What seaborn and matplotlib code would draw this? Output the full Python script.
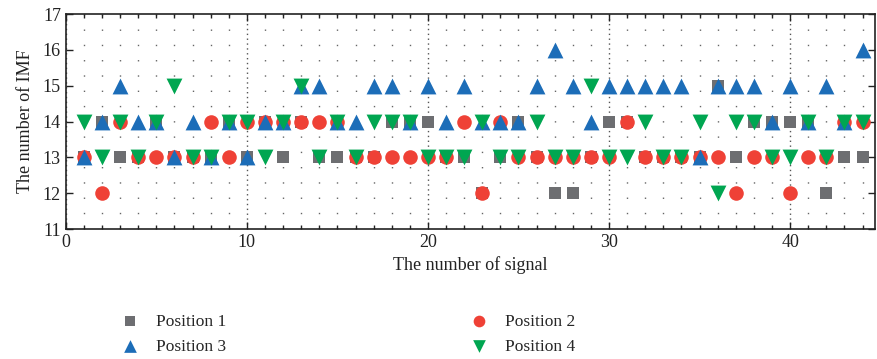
import numpy as np
import pandas as pd
import matplotlib
matplotlib.use("Agg")
import matplotlib.pyplot as plt
import seaborn as sns
from matplotlib.ticker import MultipleLocator

signal = list(range(1, 45))
pos1 = [13, 14, 13, 13, 14, 13, 13, 13, 14, 13,
        14, 13, 14, 13, 13, 13, 13, 14, 14, 14,
        13, 13, 12, 13, 14, 13, 12, 12, 13, 14,
        14, 13, 13, 13, 13, 15, 13, 14, 14, 14,
        14, 12, 13, 13]
pos2 = [13, 12, 14, 13, 13, 13, 13, 14, 13, 14,
        14, 14, 14, 14, 14, 13, 13, 13, 13, 13,
        13, 14, 12, 14, 13, 13, 13, 13, 13, 13,
        14, 13, 13, 13, 13, 13, 12, 13, 13, 12,
        13, 13, 14, 14]
pos3 = [13, 14, 15, 14, 14, 13, 14, 13, 14, 13,
        14, 14, 15, 15, 14, 14, 15, 15, 14, 15,
        14, 15, 14, 14, 14, 15, 16, 15, 14, 15,
        15, 15, 15, 15, 13, 15, 15, 15, 14, 15,
        14, 15, 14, 16]
pos4 = [14, 13, 14, 13, 14, 15, 13, 13, 14, 14,
        13, 14, 15, 13, 14, 13, 14, 14, 14, 13,
        13, 13, 14, 13, 13, 14, 13, 13, 15, 13,
        13, 14, 13, 13, 14, 12, 14, 14, 13, 13,
        14, 13, 14, 14]
labels = ["Position 1", "Position 2", "Position 3", "Position 4"]

series = [pos1, pos2, pos3, pos4]
markers = ["s", "o", "^", "v"]
colors = ["#6d6e71", "#ef4136", "#1c6db8", "#00a651"]
sizes = [70, 110, 130, 130]

sns.set_theme(style="ticks")
plt.rcParams["font.family"] = ["Liberation Serif", "DejaVu Serif"]

fig = plt.figure(figsize=(8.77, 3.59), dpi=100)
ax = fig.add_axes([0.075, 0.362, 0.923, 0.599])

for vals, lab, m, c, s in zip(series, labels, markers, colors, sizes):
    df = pd.DataFrame({"signal": signal, "imf": vals})
    sns.scatterplot(data=df, x="signal", y="imf", marker=m, color=c, s=s,
                    linewidth=0, ax=ax, label=lab, zorder=3)

ax.set_xlim(0, 44.7)
ax.set_ylim(11, 17)
ax.xaxis.set_major_locator(MultipleLocator(10))
ax.xaxis.set_minor_locator(MultipleLocator(1))
ax.yaxis.set_major_locator(MultipleLocator(1))
ax.grid(which="minor", axis="x", linestyle=(0, (1, 10)), linewidth=1.0, color="#666666")
ax.grid(which="major", axis="x", linestyle=(0, (1, 2.5)), linewidth=1.0, color="#555555")
ax.grid(False, axis="y")
ax.tick_params(which="both", direction="in", top=True, right=True,
               labelsize=13, colors="#222222", width=1.0)
ax.tick_params(which="major", length=5)
ax.tick_params(which="minor", length=3)
for sp in ax.spines.values():
    sp.set_linewidth(1.2)
    sp.set_color("#222222")
ax.set_xlabel("The number of signal", fontsize=13, color="#222222", labelpad=4)
ax.set_ylabel("The number of IMF", fontsize=13, color="#222222", labelpad=6)

handles, labs = ax.get_legend_handles_labels()
ax.get_legend().remove()
order = [0, 2, 1, 3]
fig.legend([handles[i] for i in order], [labs[i] for i in order],
           loc="upper left", bbox_to_anchor=(0.128, 0.145),
           ncol=2, frameon=False, fontsize=12.5, columnspacing=14.0,
           handletextpad=0.9, labelspacing=0.5, markerscale=0.8,
           borderaxespad=0, handlelength=1.2)

fig.savefig("out.png", dpi=100)
